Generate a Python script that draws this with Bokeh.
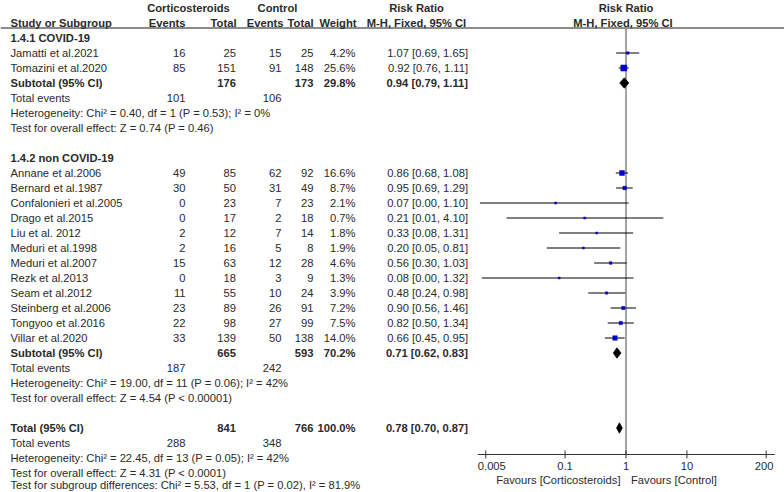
import math
from bokeh.plotting import figure
from bokeh.models import Range1d, LogScale, ColumnDataSource
from bokeh.core.properties import value
from bokeh.embed import file_html
from bokeh.resources import INLINE

# ---------------- data ----------------
group_titles = ["1.4.1 COVID-19", "1.4.2 non COVID-19"]

studies_covid = ["Jamatti et al.2021", "Tomazini et al.2020"]
ev_t_covid = [16, 85]
tot_t_covid = [25, 151]
ev_c_covid = [15, 91]
tot_c_covid = [25, 148]
weight_covid = [4.2, 25.6]
rr_covid = [1.07, 0.92]
lo_covid = [0.69, 0.76]
hi_covid = [1.65, 1.11]

studies_non = ["Annane et al.2006", "Bernard et al.1987", "Confalonieri et al.2005",
               "Drago et al.2015", "Liu et al. 2012", "Meduri et al.1998",
               "Meduri et al.2007", "Rezk et al.2013", "Seam et al.2012",
               "Steinberg et al.2006", "Tongyoo et al.2016", "Villar et al.2020"]
ev_t_non = [49, 30, 0, 0, 2, 2, 15, 0, 11, 23, 22, 33]
tot_t_non = [85, 50, 23, 17, 12, 16, 63, 18, 55, 89, 98, 139]
ev_c_non = [62, 31, 7, 2, 7, 5, 12, 3, 10, 26, 27, 50]
tot_c_non = [92, 49, 23, 18, 14, 8, 28, 9, 24, 91, 99, 138]
weight_non = [16.6, 8.7, 2.1, 0.7, 1.8, 1.9, 4.6, 1.3, 3.9, 7.2, 7.5, 14.0]
rr_non = [0.86, 0.95, 0.07, 0.21, 0.33, 0.20, 0.56, 0.08, 0.48, 0.90, 0.82, 0.66]
lo_non = [0.68, 0.69, 0.004, 0.011, 0.08, 0.05, 0.30, 0.0043, 0.24, 0.56, 0.50, 0.45]
hi_non = [1.08, 1.29, 1.10, 4.10, 1.31, 0.81, 1.03, 1.32, 0.98, 1.46, 1.34, 0.95]

sub_tot_t = [176, 665]
sub_tot_c = [173, 593]
sub_weight = [29.8, 70.2]
sub_rr = [0.94, 0.71]
sub_lo = [0.79, 0.62]
sub_hi = [1.11, 0.83]
sub_ev_t = [101, 187]
sub_ev_c = [106, 242]
sub_het = ["Heterogeneity: Chi\u00b2 = 0.40, df = 1 (P = 0.53); I\u00b2 = 0%",
           "Heterogeneity: Chi\u00b2 = 19.00, df = 11 (P = 0.06); I\u00b2 = 42%"]
sub_test = ["Test for overall effect: Z = 0.74 (P = 0.46)",
            "Test for overall effect: Z = 4.54 (P < 0.00001)"]

total_t = 841
total_c = 766
total_weight = 100.0
total_rr = 0.78
total_lo = 0.70
total_hi = 0.87
total_ev_t = 288
total_ev_c = 348
total_het = "Heterogeneity: Chi\u00b2 = 22.45, df = 13 (P = 0.05); I\u00b2 = 42%"
total_test = "Test for overall effect: Z = 4.31 (P < 0.0001)"
subgroup_test = "Test for subgroup differences: Chi\u00b2 = 5.53, df = 1 (P = 0.02), I\u00b2 = 81.9%"

null_rr = 1
tick_values = [0.005, 0.1, 1, 10, 200]
tick_labels = ["0.005", "0.1", "1", "10", "200"]
favours_left = "Favours [Corticosteroids]"
favours_right = "Favours [Control]"

# ---------------- layout ----------------
W, H = 784, 492
ROW_PX = 15.0
ROW_TOP = -22.5 / ROW_PX
ROW_BOT = (H - 22.5) / ROW_PX
X0 = 625.5          # pixel of RR = 1
PX_DEC = 60.93      # pixels per decade
FONT = value("Liberation Sans")
FS = "11.2px"
TXT = "#2a2a2a"

COL_NAME = 10
COL_EVT = 185
COL_TOTT = 235.5
COL_EVC = 281
COL_TOTC = 313
COL_W = 355
COL_RR = 467.5

p = figure(width=W, height=H, x_range=Range1d(0, W),
           y_range=Range1d(ROW_BOT, ROW_TOP),
           output_backend="svg", toolbar_location=None,
           x_axis_location=None, y_axis_location=None, min_border=0)
p.grid.visible = False
p.outline_line_color = None
p.background_fill_color = "white"
p.extra_x_ranges = {"rr": Range1d(10 ** ((0 - X0) / PX_DEC), 10 ** ((W - X0) / PX_DEC))}
p.extra_x_scales = {"rr": LogScale()}

texts = {}


def add(x, row, txt, align="left", bold=False):
    key = (align, bold)
    d = texts.setdefault(key, {"x": [], "y": [], "t": []})
    d["x"].append(x)
    d["y"].append(row)
    d["t"].append(txt)


def rrtxt(r, lo, hi):
    return f"{r:.2f} [{lo:.2f}, {hi:.2f}]"


# headers
add(188, -1, "Corticosteroids", "center", True)
add(277, -1, "Control", "center", True)
add(416, -1, "Risk Ratio", "center", True)
add(X0, -1, "Risk Ratio", "center", True)
add(COL_NAME, 0, "Study or Subgroup", "left", True)
add(COL_EVT, 0, "Events", "right", True)
add(COL_TOTT + 0.5, 0, "Total", "right", True)
add(COL_EVC + 2, 0, "Events", "right", True)
add(COL_TOTC, 0, "Total", "right", True)
add(COL_W + 1, 0, "Weight", "right", True)
add(416, 0, "M-H, Fixed, 95% CI", "center", True)
add(X0 - 3, 0, "M-H, Fixed, 95% CI", "center", True)

groups = [
    (studies_covid, ev_t_covid, tot_t_covid, ev_c_covid, tot_c_covid, weight_covid, rr_covid, lo_covid, hi_covid),
    (studies_non, ev_t_non, tot_t_non, ev_c_non, tot_c_non, weight_non, rr_non, lo_non, hi_non),
]

study_rows, study_rr, study_lo, study_hi, study_w = [], [], [], [], []
dia_rows, dia_rr, dia_lo, dia_hi = [], [], [], []

row = 1
for gi, g in enumerate(groups):
    names, et, tt, ec, tc, w, r, lo, hi = g
    add(COL_NAME, row, group_titles[gi], "left", True)
    row += 1
    for i in range(len(names)):
        add(COL_NAME, row, names[i])
        add(COL_EVT, row, str(et[i]), "right")
        add(COL_TOTT, row, str(tt[i]), "right")
        add(COL_EVC, row, str(ec[i]), "right")
        add(COL_TOTC, row, str(tc[i]), "right")
        add(COL_W, row, f"{w[i]:.1f}%", "right")
        add(COL_RR, row, rrtxt(r[i], lo[i], hi[i]), "right")
        study_rows.append(row)
        study_rr.append(r[i])
        study_lo.append(lo[i])
        study_hi.append(hi[i])
        study_w.append(w[i])
        row += 1
    add(COL_NAME, row, "Subtotal (95% CI)", "left", True)
    add(COL_TOTT, row, str(sub_tot_t[gi]), "right", True)
    add(COL_TOTC, row, str(sub_tot_c[gi]), "right", True)
    add(COL_W, row, f"{sub_weight[gi]:.1f}%", "right", True)
    add(COL_RR, row, rrtxt(sub_rr[gi], sub_lo[gi], sub_hi[gi]), "right", True)
    dia_rows.append(row)
    dia_rr.append(sub_rr[gi])
    dia_lo.append(sub_lo[gi])
    dia_hi.append(sub_hi[gi])
    row += 1
    add(COL_NAME, row, "Total events")
    add(COL_EVT, row, str(sub_ev_t[gi]), "right")
    add(COL_EVC, row, str(sub_ev_c[gi]), "right")
    row += 1
    add(COL_NAME, row, sub_het[gi])
    row += 1
    add(COL_NAME, row, sub_test[gi])
    row += 2

add(COL_NAME, row, "Total (95% CI)", "left", True)
add(COL_TOTT, row, str(total_t), "right", True)
add(COL_TOTC, row, str(total_c), "right", True)
add(COL_W, row, f"{total_weight:.1f}%", "right", True)
add(COL_RR, row, rrtxt(total_rr, total_lo, total_hi), "right", True)
dia_rows.append(row)
dia_rr.append(total_rr)
dia_lo.append(total_lo)
dia_hi.append(total_hi)
row += 1
add(COL_NAME, row, "Total events")
add(COL_EVT, row, str(total_ev_t), "right")
add(COL_EVC, row, str(total_ev_c), "right")
row += 1
add(COL_NAME, row, total_het)
row += 1
add(COL_NAME, row, total_test)
row += 1
# last line nudged up slightly so that it stays inside the page
add(COL_NAME, row - 3.0 / ROW_PX, subgroup_test)

# axis geometry (rows)
AXIS_ROW = (454 - 22.5) / ROW_PX
TICKLBL_ROW = (465.5 - 22.5) / ROW_PX
FAV_ROW = (479.5 - 22.5) / ROW_PX
LINE_ROW = (27.5 - 22.5) / ROW_PX

# header underline
p.segment(x0=[0], x1=[W], y0=[LINE_ROW], y1=[LINE_ROW], line_color="#666666", line_width=1.3)

# null line
p.segment(x0=[null_rr], x1=[null_rr], y0=[LINE_ROW], y1=[AXIS_ROW], x_range_name="rr",
          line_color="#8c8c8c", line_width=1.6)

# CI lines
p.segment(x0=study_lo, x1=study_hi, y0=study_rows, y1=study_rows, x_range_name="rr",
          line_color="black", line_width=1)

# squares
sizes = [max(2.0, 1.2 * math.sqrt(w)) for w in study_w]
p.scatter(x=study_rr, y=study_rows, size=sizes, marker="square", x_range_name="rr",
          fill_color="#0000cc", line_color="#0000cc", line_width=0.5)

# diamonds
dh = 5.2 / ROW_PX
xs = [[lo, r, hi, r] for lo, r, hi in zip(dia_lo, dia_rr, dia_hi)]
ys = [[y, y - dh, y, y + dh] for y in dia_rows]
p.patches(xs=xs, ys=ys, x_range_name="rr", fill_color="black", line_color="black", line_width=0.8)

# axis
p.segment(x0=[477.3], x1=[774.3], y0=[AXIS_ROW], y1=[AXIS_ROW], line_color="#333333", line_width=1)
tk = 4.0 / ROW_PX
p.segment(x0=tick_values, x1=tick_values, y0=[AXIS_ROW - tk] * len(tick_values),
          y1=[AXIS_ROW + tk] * len(tick_values), x_range_name="rr", line_color="#333333", line_width=1)
p.text(x=tick_values, y=[TICKLBL_ROW] * len(tick_values), text=tick_labels, x_range_name="rr",
       x_offset=[6, 0, 0, 0, -2], text_align="center", text_baseline="middle",
       text_font=FONT, text_font_size=FS, text_color=TXT)
p.text(x=[null_rr], y=[FAV_ROW], text=[favours_left], x_range_name="rr", x_offset=-5.5,
       text_align="right", text_baseline="middle", text_font=FONT, text_font_size=FS, text_color=TXT)
p.text(x=[null_rr], y=[FAV_ROW], text=[favours_right], x_range_name="rr", x_offset=5,
       text_align="left", text_baseline="middle", text_font=FONT, text_font_size=FS, text_color=TXT)

for (align, bold), d in texts.items():
    src = ColumnDataSource(dict(x=d["x"], y=d["y"], t=d["t"]))
    p.text(x="x", y="y", text="t", source=src, text_align=align, text_baseline="middle",
           text_font=FONT, text_font_size=FS, text_color=TXT,
           text_font_style="bold" if bold else "normal")

open("out.html", "w").write(file_html(p, INLINE))
